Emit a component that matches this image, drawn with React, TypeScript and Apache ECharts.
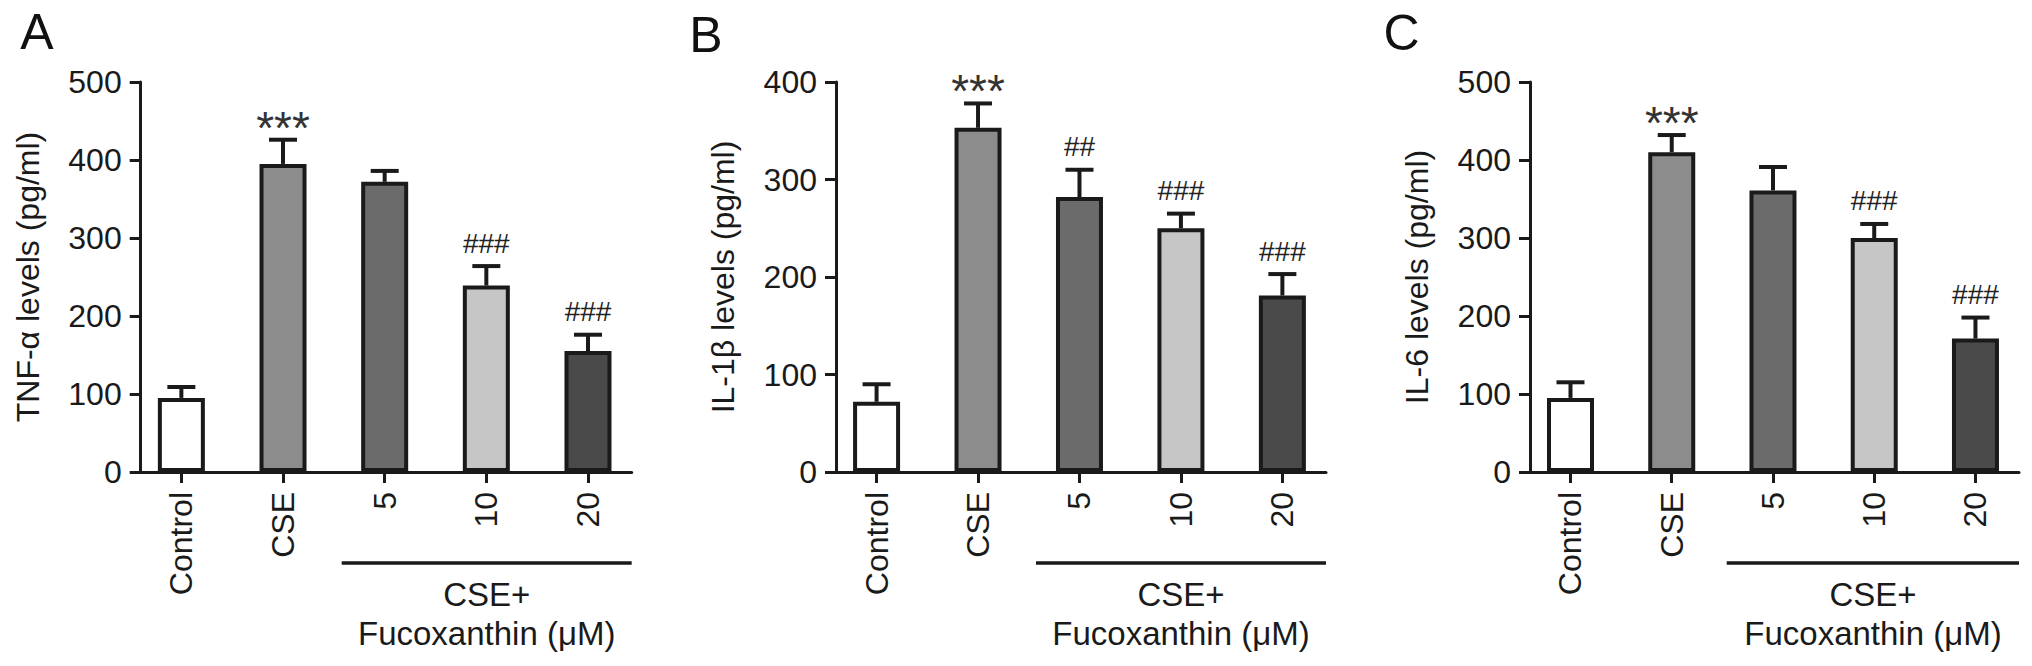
import React, { useEffect, useRef } from 'react';
import * as echarts from 'echarts';

// ---------- data ----------
const categories = ['Control', 'CSE', '5', '10', '20'];

const tnfMean = [95, 395, 372, 239, 155];
const tnfErr = [14, 31, 14, 25, 21];
const tnfMarks = ['', '***', '', '###', '###'];

const il1bMean = [72, 353, 282, 250, 181];
const il1bErr = [18, 25, 28, 15, 22];
const il1bMarks = ['', '***', '##', '###', '###'];

const il6Mean = [95, 410, 361, 300, 171];
const il6Err = [20, 22, 30, 18, 27];
const il6Marks = ['', '***', '', '###', '###'];

const yMaxA = 500;
const yMaxB = 400;
const yMaxC = 500;
const yInterval = 100;

const barColors = ['#ffffff', '#8c8c8c', '#6b6b6b', '#c6c6c6', '#4a4a4a'];

// ---------- layout / style ----------
const FONT = '"Liberation Sans", Arial, Helvetica, sans-serif';
const INK = '#1a1a1a';
const GRID_TOP = 82;
const GRID_H = 390;
const X_MIN = -0.4;
const X_MAX = 4.43;

const panels = [
  { letter: 'A', yName: 'TNF-α levels (pg/ml)', mean: tnfMean, err: tnfErr, marks: tnfMarks, max: yMaxA,
    left: 140.7, width: 491, letterX: 37, letterY: 32, brX1: 341.7, brX2: 631.7, txtX: 486.7 },
  { letter: 'B', yName: 'IL-1β levels (pg/ml)', mean: il1bMean, err: il1bErr, marks: il1bMarks, max: yMaxB,
    left: 836, width: 490, letterX: 706, letterY: 35, brX1: 1036, brX2: 1326, txtX: 1181 },
  { letter: 'C', yName: 'IL-6 levels (pg/ml)', mean: il6Mean, err: il6Err, marks: il6Marks, max: yMaxC,
    left: 1530, width: 489, letterX: 1401.5, letterY: 33, brX1: 1726.7, brX2: 2019, txtX: 1873 },
];

function buildOption() {
  const grid: any[] = [];
  const xAxis: any[] = [];
  const yAxis: any[] = [];
  const series: any[] = [];
  const graphic: any[] = [];

  panels.forEach((p, i) => {
    grid.push({ left: p.left, top: GRID_TOP, width: p.width, height: GRID_H, containLabel: false });
    xAxis.push({
      type: 'value',
      gridIndex: i,
      min: X_MIN,
      max: X_MAX,
      splitLine: { show: false },
      axisLine: { show: true, onZero: false, lineStyle: { color: INK, width: 3 } },
      axisTick: { show: true, customValues: [0, 1, 2, 3, 4], length: 11, lineStyle: { color: INK, width: 3 } },
      axisLabel: {
        show: true,
        customValues: [0, 1, 2, 3, 4],
        rotate: 90,
        margin: 20,
        fontSize: 32,
        fontFamily: FONT,
        color: INK,
        formatter: (v: number) => categories[Math.round(v)] ?? '',
      },
    });
    yAxis.push({
      type: 'value',
      gridIndex: i,
      min: 0,
      max: p.max,
      interval: yInterval,
      splitLine: { show: false },
      axisLine: { show: true, onZero: false, lineStyle: { color: INK, width: 3 } },
      axisTick: { show: true, length: 11, lineStyle: { color: INK, width: 3 } },
      axisLabel: { fontSize: 32, fontFamily: FONT, color: INK, margin: 19 },
      name: p.yName,
      nameLocation: 'middle',
      nameGap: 97,
      nameTextStyle: { fontSize: 32, fontFamily: FONT, color: INK },
    });

    series.push({
      type: 'bar',
      xAxisIndex: i,
      yAxisIndex: i,
      barWidth: 47,
      z: 2,
      itemStyle: { borderColor: INK, borderWidth: 4 },
      data: p.mean.map((v, k) => ({ value: [k, v], itemStyle: { color: barColors[k] } })),
    });

    const marks = p.marks;
    series.push({
      type: 'custom',
      xAxisIndex: i,
      yAxisIndex: i,
      z: 3,
      encode: { x: 0, y: 1 },
      data: p.mean.map((v, k) => [k, v, p.err[k]]),
      renderItem: (params: any, api: any) => {
        const x = api.value(0);
        const v = api.value(1);
        const e = api.value(2);
        const base = api.coord([x, v]);
        const top = api.coord([x, v + e]);
        const children: any[] = [
          { type: 'line', shape: { x1: base[0], y1: base[1], x2: top[0], y2: top[1] }, style: { stroke: INK, lineWidth: 4 } },
          { type: 'line', shape: { x1: top[0] - 14, y1: top[1], x2: top[0] + 14, y2: top[1] }, style: { stroke: INK, lineWidth: 4 } },
        ];
        const m = marks[params.dataIndex];
        if (m) {
          const isStar = m.indexOf('*') >= 0;
          children.push({
            type: 'text',
            x: top[0],
            y: top[1] - (isStar ? 12 : 23),
            style: {
              text: m,
              fill: isStar ? '#333333' : '#222222',
              fontSize: isStar ? 46 : 28,
              fontFamily: FONT,
              align: 'center',
              verticalAlign: 'middle',
            },
          });
        }
        return { type: 'group', children };
      },
    });

    graphic.push({
      type: 'text',
      x: p.letterX,
      y: p.letterY,
      style: { text: p.letter, fontSize: 50, fontFamily: FONT, fill: '#111', align: 'center', verticalAlign: 'middle' },
    });
    graphic.push({
      type: 'line',
      shape: { x1: p.brX1, y1: 563, x2: p.brX2, y2: 563 },
      style: { stroke: INK, lineWidth: 3.5 },
    });
    graphic.push({
      type: 'text',
      x: p.txtX,
      y: 594,
      style: { text: 'CSE+', fontSize: 33, fontFamily: FONT, fill: INK, align: 'center', verticalAlign: 'middle' },
    });
    graphic.push({
      type: 'text',
      x: p.txtX,
      y: 633,
      style: { text: 'Fucoxanthin (μM)', fontSize: 33, fontFamily: FONT, fill: INK, align: 'center', verticalAlign: 'middle' },
    });
  });

  return {
    animation: false,
    backgroundColor: '#ffffff',
    grid,
    xAxis,
    yAxis,
    series,
    graphic,
  };
}

export default function App() {
  const ref = useRef<HTMLDivElement>(null);
  useEffect(() => {
    if (!ref.current) return;
    const chart = echarts.init(ref.current, undefined, { renderer: 'svg' });
    chart.setOption(buildOption() as any);
    return () => chart.dispose();
  }, []);
  return (
    <div
      ref={ref}
      style={{ position: 'fixed', left: 0, top: 0, width: 2032, height: 666, background: '#fff' }}
    />
  );
}
